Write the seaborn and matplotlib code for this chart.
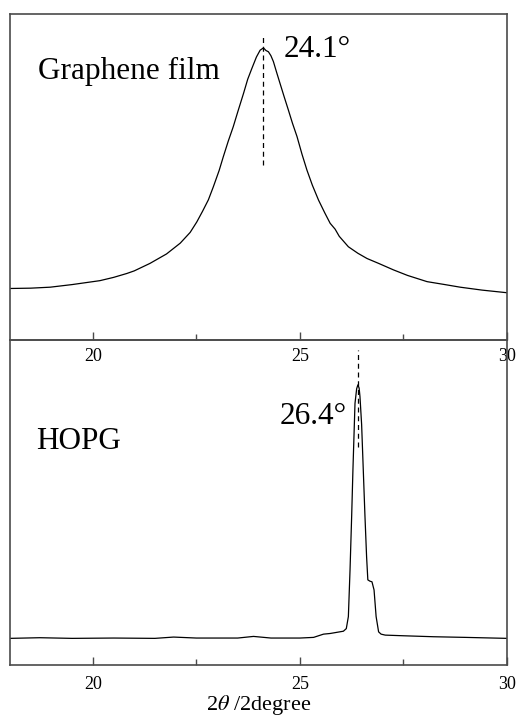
import matplotlib
matplotlib.use("Agg")
import matplotlib.pyplot as plt
import seaborn as sns
from matplotlib.ticker import MultipleLocator

sns.set_style("ticks")
plt.rcParams["font.family"] = ["Liberation Serif", "DejaVu Serif"]
plt.rcParams["mathtext.fontset"] = "stix"
plt.rcParams["text.color"] = "black"
plt.rcParams["axes.labelcolor"] = "black"
plt.rcParams["xtick.labelcolor"] = "black"

# Graphene film XRD trace (2theta, normalised intensity)
film_x = [18.0, 18.5, 18.97, 19.5, 20.17, 20.5, 20.82, 21.0, 21.38, 21.78, 22.11,
          22.35, 22.51, 22.65, 22.79, 22.91, 23.05, 23.15, 23.27, 23.39, 23.5, 23.64,
          23.74, 23.84, 23.95, 24.04, 24.12, 24.18, 24.24, 24.3, 24.36, 24.44, 24.52,
          24.62, 24.72, 24.82, 24.93, 25.05, 25.17, 25.3, 25.45, 25.6, 25.73, 25.85,
          25.95, 26.17, 26.4, 26.62, 26.9, 27.26, 27.6, 28.07, 28.5, 28.87, 29.4, 30.0]
film_y = [0.158, 0.159, 0.162, 0.170, 0.182, 0.192, 0.204, 0.212, 0.235, 0.264, 0.297,
          0.330, 0.362, 0.395, 0.430, 0.470, 0.520, 0.562, 0.610, 0.654, 0.700, 0.757,
          0.800, 0.833, 0.868, 0.889, 0.896, 0.888, 0.884, 0.872, 0.854, 0.820, 0.787,
          0.746, 0.706, 0.665, 0.624, 0.570, 0.521, 0.475, 0.429, 0.390, 0.358, 0.340,
          0.318, 0.286, 0.266, 0.250, 0.235, 0.215, 0.198, 0.179, 0.170, 0.162, 0.153,
          0.145]

# HOPG XRD trace
hopg_x = [18.0, 18.72, 19.5, 20.5, 21.5, 21.95, 22.5, 23.5, 23.88, 24.3, 25.0, 25.33,
          25.57, 25.73, 26.05, 26.12, 26.17, 26.21, 26.25, 26.28, 26.33, 26.37, 26.40,
          26.43, 26.45, 26.49, 26.53, 26.57, 26.61, 26.64, 26.69, 26.74, 26.79, 26.84,
          26.90, 26.96, 27.06, 27.5, 28.23, 29.0, 30.0]
hopg_y = [0.082, 0.084, 0.082, 0.083, 0.082, 0.086, 0.083, 0.083, 0.088, 0.083, 0.083,
          0.085, 0.095, 0.097, 0.104, 0.112, 0.149, 0.292, 0.460, 0.600, 0.805, 0.850,
          0.862, 0.852, 0.826, 0.740, 0.600, 0.460, 0.333, 0.262, 0.258, 0.256, 0.231,
          0.149, 0.102, 0.095, 0.092, 0.090, 0.087, 0.085, 0.082]

panels = [
    ("Graphene film", film_x, film_y),
    ("HOPG", hopg_x, hopg_y),
]

fig = plt.figure(figsize=(5.2, 7.17), dpi=100)
ax_top = fig.add_axes([0.0192, 0.5258, 0.9558, 0.4547])
ax_bot = fig.add_axes([0.0192, 0.0725, 0.9558, 0.4533])
frame = "#4a4a4a"

for ax, (name, xs, ys), pad in zip([ax_top, ax_bot], panels, [6, 8]):
    ax.set_facecolor("none")
    sns.lineplot(x=xs, y=ys, ax=ax, color="black", linewidth=0.9)
    ax.set_xlim(18, 30)
    ax.set_ylim(0, 1)
    ax.set_yticks([])
    ax.xaxis.set_major_locator(MultipleLocator(5))
    ax.xaxis.set_minor_locator(MultipleLocator(2.5))
    ax.tick_params(axis="x", which="major", direction="in", length=6, width=1,
                   color=frame, labelsize=13, pad=pad)
    ax.tick_params(axis="x", which="minor", direction="in", length=4, width=1, color=frame)
    for sp in ax.spines.values():
        sp.set_color(frame)
        sp.set_linewidth(1.2)

ax_top.axvline(24.1, ymin=0.537, ymax=0.935, color="black", lw=0.9, ls=(0, (4, 3)))
ax_top.text(18.68, 0.825, "Graphene film", fontsize=22.5, va="center", ha="left")
ax_top.text(24.6, 0.89, "24.1°", fontsize=22.5, va="center", ha="left")

ax_bot.axvline(26.4, ymin=0.672, ymax=0.97, color="black", lw=0.9, ls=(0, (4, 3)))
ax_bot.text(18.64, 0.687, "HOPG", fontsize=22.5, va="center", ha="left")
ax_bot.text(26.13, 0.764, "26.4°", fontsize=22.5, va="center", ha="right")
ax_bot.set_xlabel(r"2$\theta$ /2degree", fontsize=16, labelpad=0)

fig.savefig("out.png", dpi=100)
